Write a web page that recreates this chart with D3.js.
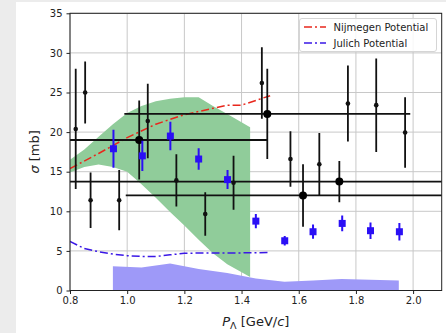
<!DOCTYPE html>
<html>
<head>
<meta charset="utf-8">
<script src="https://cdn.jsdelivr.net/npm/d3@7"></script>
<style>
  body { margin: 0; background: #ececec; }
  svg { font-family: "DejaVu Sans", sans-serif; }
</style>
</head>
<body>
<div class="chart"></div>
<script>
// tick values
var xTicks = [0.8, 1.0, 1.2, 1.4, 1.6, 1.8, 2.0];
var yTicks = [0, 5, 10, 15, 20, 25, 30, 35];

// Nijmegen potential (red dash-dot)
var nijX = [0.8, 0.9, 1.0, 1.1, 1.2, 1.3, 1.35, 1.4, 1.45, 1.5];
var nijY = [15.4, 17.3, 19.3, 21.0, 22.2, 23.0, 23.4, 23.4, 24.0, 24.6];

// Julich potential (blue dash-dot)
var julX = [0.8, 0.85, 0.9, 0.95, 1.0, 1.05, 1.1, 1.15, 1.2, 1.3, 1.4, 1.5];
var julY = [6.2, 5.3, 4.9, 4.6, 4.4, 4.3, 4.3, 4.5, 4.7, 4.75, 4.75, 4.8];

// green uncertainty band
var bandX  = [0.8, 0.85, 0.9, 0.95, 1.0, 1.05, 1.1, 1.15, 1.2, 1.25, 1.3, 1.35, 1.43];
var bandLo = [14.9, 15.6, 15.9, 15.6, 15.0, 13.4, 11.7, 9.9, 8.2, 6.4, 4.7, 3.3, 1.7];
var bandHi = [16.5, 17.8, 19.4, 21.0, 22.4, 23.3, 23.9, 24.2, 24.4, 24.4, 23.3, 22.3, 20.6];

// purple systematic band
var sysX = [0.95, 1.05, 1.15, 1.25, 1.35, 1.45, 1.55, 1.65, 1.75, 1.85, 1.95];
var sysY = [3.05, 2.9, 3.4, 2.7, 2.2, 1.5, 1.1, 1.25, 1.45, 1.35, 1.25];

// black small points
var ptX   = [0.82, 0.853, 0.872, 0.972, 1.072, 1.172, 1.273, 1.372, 1.471, 1.571, 1.672, 1.772, 1.871, 1.972];
var ptY   = [20.4, 25.0, 11.4, 11.4, 21.4, 13.9, 9.65, 13.6, 26.2, 16.6, 15.95, 23.6, 23.4, 19.95];
var ptErr = [7.6, 3.9, 3.5, 3.8, 4.7, 3.3, 2.75, 3.4, 4.5, 3.5, 3.95, 4.8, 5.9, 4.45];

// black big points with x errors
var bigX    = [1.042, 1.49, 1.615, 1.742];
var bigY    = [19.0, 22.3, 12.0, 13.75];
var bigXerr = [0.45, 0.5, 0.62, 1.0];
var bigYerr = [5.0, 5.7, 3.95, 2.6];

// blue squares
var blueX   = [0.952, 1.053, 1.151, 1.25, 1.351, 1.45, 1.551, 1.65, 1.752, 1.851, 1.952];
var blueY   = [17.9, 17.0, 19.5, 16.6, 14.0, 8.76, 6.28, 7.42, 8.47, 7.55, 7.42];
var blueErr = [2.4, 1.9, 1.8, 1.35, 1.2, 0.9, 0.6, 0.9, 1.0, 1.05, 1.1];

var W = 446, H = 333;
var pL = 70, pR = 441.7, pT = 13.3, pB = 290.5;

var x = d3.scaleLinear().domain([0.8, 2.1]).range([pL, pR]);
var y = d3.scaleLinear().domain([0, 35]).range([pB, pT]);

var svg = d3.select('.chart').append('svg')
    .attr('width', W).attr('height', H);

// figure white area
svg.append('rect').attr('x', 16).attr('y', 2).attr('width', W - 16).attr('height', H - 2)
    .attr('fill', '#fff');

svg.append('defs').append('clipPath').attr('id', 'plot')
    .append('rect').attr('x', pL).attr('y', pT)
    .attr('width', pR - pL).attr('height', pB - pT);

// grid
var grid = svg.append('g').attr('stroke', '#c8c8c8').attr('stroke-width', 1);
grid.selectAll('.gx').data(xTicks).enter().append('line')
    .attr('x1', d => x(d)).attr('x2', d => x(d)).attr('y1', pT).attr('y2', pB);
grid.selectAll('.gy').data(yTicks).enter().append('line')
    .attr('x1', pL).attr('x2', pR).attr('y1', d => y(d)).attr('y2', d => y(d));

var plot = svg.append('g').attr('clip-path', 'url(#plot)');

// green band
var bandPts = bandX.map((d, i) => ({x: d, lo: bandLo[i], hi: bandHi[i]}));
plot.append('path').datum(bandPts)
    .attr('d', d3.area().x(d => x(d.x)).y0(d => y(d.lo)).y1(d => y(d.hi)))
    .attr('fill', '#90cc9a');

// purple band
var sysPts = sysX.map((d, i) => ({x: d, v: sysY[i]}));
plot.append('path').datum(sysPts)
    .attr('d', d3.area().x(d => x(d.x)).y0(y(0)).y1(d => y(d.v)))
    .attr('fill', '#9e99f8');

// theory lines
var line = d3.line().x(d => x(d[0])).y(d => y(d[1]));
plot.append('path').datum(nijX.map((d, i) => [d, nijY[i]]))
    .attr('d', line).attr('fill', 'none').attr('stroke', '#e8271c')
    .attr('stroke-width', 1.5).attr('stroke-dasharray', '8,3,2,3');
plot.append('path').datum(julX.map((d, i) => [d, julY[i]]))
    .attr('d', line).attr('fill', 'none').attr('stroke', '#3a18e6')
    .attr('stroke-width', 1.5).attr('stroke-dasharray', '8,3,2,3');

// black points
var blk = plot.append('g').attr('stroke', '#111').attr('stroke-width', 1.8);
ptX.forEach(function(d, i) {
    blk.append('line').attr('x1', x(d)).attr('x2', x(d))
        .attr('y1', y(ptY[i] - ptErr[i])).attr('y2', y(ptY[i] + ptErr[i]));
    blk.append('circle').attr('cx', x(d)).attr('cy', y(ptY[i])).attr('r', 2.3)
        .attr('fill', '#111').attr('stroke', 'none');
});
bigX.forEach(function(d, i) {
    blk.append('line').attr('x1', x(d - bigXerr[i])).attr('x2', x(d + bigXerr[i]))
        .attr('y1', y(bigY[i])).attr('y2', y(bigY[i]));
    blk.append('line').attr('x1', x(d)).attr('x2', x(d))
        .attr('y1', y(bigY[i] - bigYerr[i])).attr('y2', y(bigY[i] + bigYerr[i]));
    blk.append('circle').attr('cx', x(d)).attr('cy', y(bigY[i])).attr('r', 4)
        .attr('fill', '#000').attr('stroke', 'none');
});

// blue squares
var blu = plot.append('g').attr('stroke', '#2a0ff5').attr('stroke-width', 2);
blueX.forEach(function(d, i) {
    blu.append('line').attr('x1', x(d)).attr('x2', x(d))
        .attr('y1', y(blueY[i] - blueErr[i])).attr('y2', y(blueY[i] + blueErr[i]));
    blu.append('rect').attr('x', x(d) - 3.5).attr('y', y(blueY[i]) - 3.5)
        .attr('width', 7).attr('height', 7).attr('fill', '#2a0ff5').attr('stroke', 'none');
});

// axes
var xAxis = svg.append('g').attr('transform', 'translate(0,' + pB + ')')
    .call(d3.axisBottom(x).tickValues(xTicks).tickFormat(d3.format('.1f')).tickSizeOuter(0).tickSize(3.5));
var yAxis = svg.append('g').attr('transform', 'translate(' + pL + ',0)')
    .call(d3.axisLeft(y).tickValues(yTicks).tickSizeOuter(0).tickSize(3.5));
[xAxis, yAxis].forEach(function(a) {
    a.select('.domain').remove();
    a.selectAll('text').attr('font-size', 10).attr('fill', '#222')
        .attr('font-family', '"DejaVu Sans", sans-serif');
    a.selectAll('line').attr('stroke', '#222');
});
yAxis.selectAll('text').attr('dx', '-0.1em');

svg.append('rect').attr('x', pL).attr('y', pT)
    .attr('width', pR - pL).attr('height', pB - pT)
    .attr('fill', 'none').attr('stroke', '#222').attr('stroke-width', 1);

// axis labels
var xl = svg.append('text').attr('x', (pL + pR) / 2).attr('y', 326)
    .attr('text-anchor', 'middle').attr('font-size', 13).attr('fill', '#222');
xl.append('tspan').attr('font-style', 'italic').text('P');
xl.append('tspan').attr('font-size', 9.5).attr('dy', 3).text('Λ');
xl.append('tspan').attr('dy', -3).text(' [GeV/');
xl.append('tspan').attr('font-style', 'italic').text('c');
xl.append('tspan').text(']');

var yl = svg.append('text').attr('transform', 'translate(39,' + ((pT + pB) / 2) + ') rotate(-90)')
    .attr('text-anchor', 'middle').attr('font-size', 13).attr('fill', '#222');
yl.append('tspan').attr('font-style', 'italic').text('σ');
yl.append('tspan').text(' [mb]');

// legend
var leg = svg.append('g');
leg.append('rect').attr('x', 299.5).attr('y', 18.5).attr('width', 137).attr('height', 33)
    .attr('rx', 2.5).attr('fill', '#fff').attr('fill-opacity', 0.85)
    .attr('stroke', '#d5d5d5').attr('stroke-width', 1);
var legItems = [
    {label: 'Nijmegen Potential', color: '#e8271c'},
    {label: 'Julich Potential', color: '#3a18e6'}
];
legItems.forEach(function(d, i) {
    var ly = 27 + i * 16;
    leg.append('line').attr('x1', 304).attr('x2', 326).attr('y1', ly).attr('y2', ly)
        .attr('stroke', d.color).attr('stroke-width', 1.5).attr('stroke-dasharray', '8,3,2,3');
    leg.append('text').attr('x', 333.5).attr('y', ly + 3.6).attr('font-size', 10)
        .attr('fill', '#222').text(d.label);
});
</script>
</body>
</html>
